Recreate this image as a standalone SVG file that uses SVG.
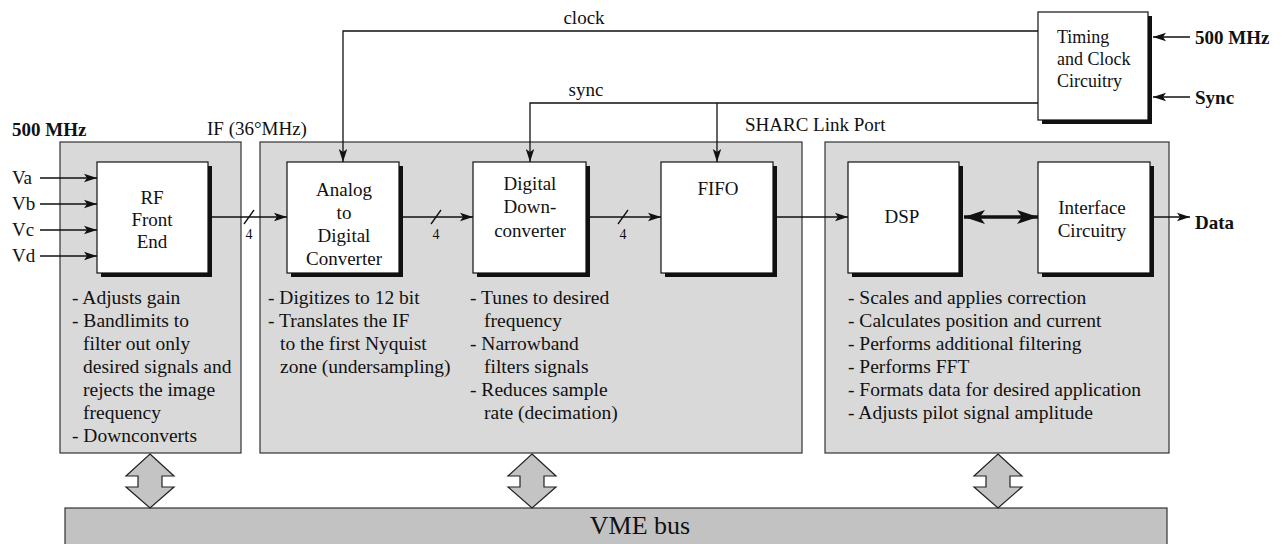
<svg xmlns="http://www.w3.org/2000/svg" width="1287" height="544" viewBox="0 0 1287 544" font-family="'Liberation Serif', 'Times New Roman', Times, 'DejaVu Serif', serif">
  <style>
    text { font-family: "Liberation Serif", "Times New Roman", Times, "DejaVu Serif", serif; fill: #111; }
    .lbl { font-size: 19px; }
    .desc { font-size: 19.5px; }
    .box { font-size: 19px; text-anchor: middle; }
    .bold { font-weight: bold; font-size: 19px; }
    .bus { font-size: 14px; }
    .panel { fill: #d9d9d9; stroke: #333; stroke-width: 1.2; }
    .blk { fill: #fff; stroke: #111; stroke-width: 1.2; }
    .shd { fill: #111; }
    .wire { fill: none; stroke: #111; stroke-width: 1.3; }
    .thick { fill: none; stroke: #111; stroke-width: 3.5; }
    .dbl { fill: #c4c4c4; stroke: #222; stroke-width: 1.2; }
  </style>
  <defs>
    <marker id="ah" markerUnits="userSpaceOnUse" markerWidth="14" markerHeight="10" refX="13" refY="5" orient="auto">
      <path d="M0,0.8 L13,5 L0,9.2 L3,5 z" fill="#111"/>
    </marker>
    <marker id="ahBig" markerUnits="userSpaceOnUse" markerWidth="22" markerHeight="14" refX="21" refY="7" orient="auto-start-reverse">
      <path d="M0,0 L21,7 L0,14 L5,7 z" fill="#111"/>
    </marker>
  </defs>

  <!-- shaded panels -->
  <g id="panel-rf"><rect class="panel" x="60" y="142" width="181" height="311"/></g>
  <g id="panel-conv"><rect class="panel" x="260" y="142" width="542" height="311"/></g>
  <g id="panel-dsp"><rect class="panel" x="825" y="142" width="344" height="311"/></g>

  <!-- VME bus -->
  <g id="vme-bus">
    <rect x="65" y="508" width="1102" height="40" fill="#c2c2c2" stroke="#333" stroke-width="1.2"/>
    <text x="640" y="534" text-anchor="middle" style="font-size:26px">VME bus</text>
  </g>

  <!-- bus links (double arrows) -->
  <g id="bus-links">
    <path class="dbl" d="M150,454 L174,476 L162,476 L162,487 L174,487 L150,508 L126,487 L138,487 L138,476 L126,476 z"/>
    <path class="dbl" d="M532,454 L556,476 L544,476 L544,487 L556,487 L532,508 L508,487 L520,487 L520,476 L508,476 z"/>
    <path class="dbl" d="M998,454 L1022,476 L1010,476 L1010,487 L1022,487 L998,508 L974,487 L986,487 L986,476 L974,476 z"/>
  </g>

  <!-- connectors -->
  <g id="connectors">
    <line class="wire" x1="40" y1="178" x2="97" y2="178" marker-end="url(#ah)"/>
    <line class="wire" x1="40" y1="204" x2="97" y2="204" marker-end="url(#ah)"/>
    <line class="wire" x1="40" y1="230" x2="97" y2="230" marker-end="url(#ah)"/>
    <line class="wire" x1="40" y1="256" x2="97" y2="256" marker-end="url(#ah)"/>
    <line class="wire" x1="212" y1="217" x2="287" y2="217" marker-end="url(#ah)"/>
    <line class="wire" x1="403" y1="217" x2="473" y2="217" marker-end="url(#ah)"/>
    <line class="wire" x1="590" y1="217" x2="661" y2="217" marker-end="url(#ah)"/>
    <line class="wire" x1="777" y1="217" x2="848" y2="217" marker-end="url(#ah)"/>
    <line class="thick" x1="964" y1="217" x2="1038" y2="217" marker-start="url(#ahBig)" marker-end="url(#ahBig)"/>
    <line class="wire" x1="1154" y1="217" x2="1190" y2="217" marker-end="url(#ah)"/>
    <!-- bus-width ticks -->
    <line class="wire" x1="244" y1="224" x2="254" y2="210"/>
    <line class="wire" x1="431" y1="224" x2="441" y2="210"/>
    <line class="wire" x1="618" y1="224" x2="628" y2="210"/>
    <text class="bus" x="249" y="239" text-anchor="middle">4</text>
    <text class="bus" x="436" y="239" text-anchor="middle">4</text>
    <text class="bus" x="623" y="239" text-anchor="middle">4</text>
    <!-- clock distribution -->
    <polyline class="wire" points="1038,31 343,31 343,162" marker-end="url(#ah)"/>
    <polyline class="wire" points="1038,103 530,103 530,162" marker-end="url(#ah)"/>
    <line class="wire" x1="717" y1="103" x2="717" y2="162" marker-end="url(#ah)"/>
    <!-- timing inputs -->
    <line class="wire" x1="1190" y1="37" x2="1153" y2="37" marker-end="url(#ah)"/>
    <line class="wire" x1="1190" y1="97" x2="1153" y2="97" marker-end="url(#ah)"/>
    <text class="lbl" x="584" y="24" text-anchor="middle">clock</text>
    <text class="lbl" x="586" y="96" text-anchor="middle">sync</text>
  </g>

  <!-- free labels -->
  <g id="labels">
    <text class="bold" x="12" y="136">500 MHz</text>
    <text class="lbl" x="207" y="135">IF (36°MHz)</text>
    <text class="lbl" x="745" y="131">SHARC Link Port</text>
    <text class="lbl" x="12" y="184">Va</text>
    <text class="lbl" x="12" y="210">Vb</text>
    <text class="lbl" x="12" y="236">Vc</text>
    <text class="lbl" x="12" y="262">Vd</text>
    <text class="bold" x="1195" y="44">500 MHz</text>
    <text class="bold" x="1195" y="104">Sync</text>
    <text class="bold" x="1195" y="229">Data</text>
  </g>

  <g id="rf-front-end">
    <rect class="shd" x="101" y="166" width="111" height="111"/>
    <rect class="blk" x="97" y="162" width="111" height="111"/>
    <text class="box" x="152" y="204">RF</text>
    <text class="box" x="152" y="226">Front</text>
    <text class="box" x="152" y="248">End</text>
  </g>

  <g id="adc">
    <rect class="shd" x="291" y="166" width="112" height="111"/>
    <rect class="blk" x="287" y="162" width="112" height="111"/>
    <text class="box" x="344" y="196">Analog</text>
    <text class="box" x="344" y="219">to</text>
    <text class="box" x="344" y="242">Digital</text>
    <text class="box" x="344" y="265">Converter</text>
  </g>

  <g id="ddc">
    <rect class="shd" x="477" y="166" width="113" height="111"/>
    <rect class="blk" x="473" y="162" width="113" height="111"/>
    <text class="box" x="530" y="190">Digital</text>
    <text class="box" x="530" y="213">Down-</text>
    <text class="box" x="530" y="237">converter</text>
  </g>

  <g id="fifo">
    <rect class="shd" x="665" y="166" width="112" height="111"/>
    <rect class="blk" x="661" y="162" width="112" height="111"/>
    <text class="box" x="718" y="195">FIFO</text>
  </g>

  <g id="dsp">
    <rect class="shd" x="852" y="166" width="111" height="111"/>
    <rect class="blk" x="848" y="162" width="111" height="111"/>
    <text class="box" x="902" y="223">DSP</text>
  </g>

  <g id="interface">
    <rect class="shd" x="1042" y="166" width="112" height="111"/>
    <rect class="blk" x="1038" y="162" width="112" height="111"/>
    <text class="box" x="1092" y="214">Interface</text>
    <text class="box" x="1092" y="237">Circuitry</text>
  </g>

  <g id="timing">
    <rect class="shd" x="1042" y="16" width="110" height="108"/>
    <rect class="blk" x="1038" y="12" width="110" height="108"/>
    <text class="lbl" x="1057" y="43" style="font-size:18px">Timing</text>
    <text class="lbl" x="1057" y="65" style="font-size:18px">and Clock</text>
    <text class="lbl" x="1057" y="87" style="font-size:18px">Circuitry</text>
  </g>

  <!-- function notes -->
  <g id="notes-rf">
    <text class="desc" x="72" y="304">- Adjusts gain</text>
    <text class="desc" x="72" y="327">- Bandlimits to</text>
    <text class="desc" x="83" y="350">filter out only</text>
    <text class="desc" x="83" y="373">desired signals and</text>
    <text class="desc" x="83" y="396">rejects the image</text>
    <text class="desc" x="83" y="419">frequency</text>
    <text class="desc" x="72" y="442">- Downconverts</text>
  </g>
  <g id="notes-adc">
    <text class="desc" x="268" y="304">- Digitizes to 12 bit</text>
    <text class="desc" x="268" y="327">- Translates the IF</text>
    <text class="desc" x="280" y="350">to the first Nyquist</text>
    <text class="desc" x="280" y="373">zone (undersampling)</text>
  </g>
  <g id="notes-ddc">
    <text class="desc" x="470" y="304">- Tunes to desired</text>
    <text class="desc" x="484" y="327">frequency</text>
    <text class="desc" x="470" y="350">- Narrowband</text>
    <text class="desc" x="484" y="373">filters signals</text>
    <text class="desc" x="470" y="396">- Reduces sample</text>
    <text class="desc" x="484" y="419">rate (decimation)</text>
  </g>
  <g id="notes-dsp">
    <text class="desc" x="848" y="304">- Scales and applies correction</text>
    <text class="desc" x="848" y="327">- Calculates position and current</text>
    <text class="desc" x="848" y="350">- Performs additional filtering</text>
    <text class="desc" x="848" y="373">- Performs FFT</text>
    <text class="desc" x="848" y="396">- Formats data for desired application</text>
    <text class="desc" x="848" y="419">- Adjusts pilot signal amplitude</text>
  </g>
</svg>
